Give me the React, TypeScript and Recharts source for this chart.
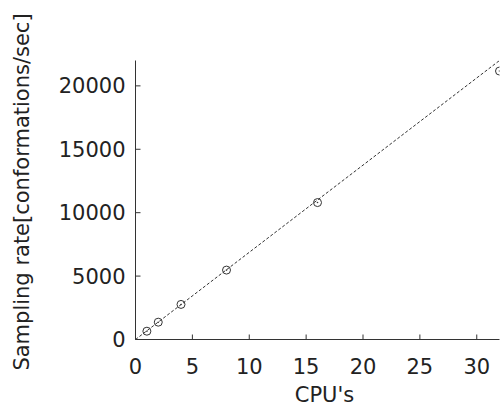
import React from "react";
import { ComposedChart, Line, Scatter, XAxis, YAxis } from "recharts";

// measured sampling rate per number of CPUs
const cpus = [1, 2, 4, 8, 16, 32];
const rates = [655, 1366, 2765, 5474, 10797, 21169];

// ideal linear scaling line
const fitX = [0, 32];
const fitY = [0, 22000];

const xTicks = [0, 5, 10, 15, 20, 25, 30];
const yTicks = [0, 5000, 10000, 15000, 20000];

const measured = cpus.map((x, i) => ({ x, y: rates[i] }));
const fitLine = fitX.map((x, i) => ({ x, y: fitY[i] }));

const INK = "#333";
const TEXT = "#222";
const FONT = "'DejaVu Sans', sans-serif";
const TICK_LEN = 5;

const BottomTick = (props: any) => {
  const { x, y, payload } = props;
  return (
    <g>
      <line x1={x} y1={y} x2={x} y2={y - TICK_LEN} stroke={INK} />
      <text x={x} y={y + 34} textAnchor="middle" fontFamily={FONT} fontSize={21} fill={TEXT}>
        {payload.value}
      </text>
    </g>
  );
};

const LeftTick = (props: any) => {
  const { x, y, payload } = props;
  return (
    <g>
      <line x1={x} y1={y} x2={x + TICK_LEN} y2={y} stroke={INK} />
      <text x={x - 10} y={y + 7.5} textAnchor="end" fontFamily={FONT} fontSize={21} fill={TEXT}>
        {payload.value}
      </text>
    </g>
  );
};

const TopTick = (props: any) => {
  const { x, y } = props;
  return <line x1={x} y1={y} x2={x} y2={y + TICK_LEN} stroke={INK} />;
};

const RightTick = (props: any) => {
  const { x, y } = props;
  return <line x1={x} y1={y} x2={x - TICK_LEN} y2={y} stroke={INK} />;
};

const Marker = (props: any) => {
  const { cx, cy } = props;
  return (
    <g>
      <circle cx={cx} cy={cy} r={4} fill="none" stroke={INK} strokeWidth={1} />
      <circle cx={cx} cy={cy} r={0.8} fill={INK} />
    </g>
  );
};

const YLabel = (props: any) => {
  const vb = props.viewBox || { x: 0, y: 60, height: 280 };
  const cx = vb.x + 22;
  const cy = vb.y + vb.height / 2 - 8;
  return (
    <text
      x={cx}
      y={cy}
      transform={`rotate(-90, ${cx}, ${cy})`}
      textAnchor="middle"
      dominantBaseline="central"
      fontFamily={FONT}
      fontSize={21}
      fill={TEXT}
    >
      Sampling rate[conformations/sec]
    </text>
  );
};

const XLabel = (props: any) => {
  const vb = props.viewBox || { x: 135, y: 339, width: 364, height: 69 };
  const cx = vb.x + vb.width / 2 + 7;
  return (
    <text x={cx} y={vb.y + vb.height - 6} textAnchor="middle" fontFamily={FONT} fontSize={21} fill={TEXT}>
      CPU's
    </text>
  );
};

export default function App() {
  return (
    <div style={{ position: "absolute", left: 0, top: 0, background: "#fff" }}>
      <ComposedChart
        width={501}
        height={408}
        margin={{ top: 60.5, right: 1.5, bottom: 0, left: 0 }}
      >
        <XAxis
          dataKey="x"
          type="number"
          domain={[0, 32]}
          ticks={xTicks}
          allowDataOverflow
          height={68.5}
          tickLine={false}
          tickSize={0}
          tickMargin={0}
          tick={<BottomTick />}
          axisLine={{ stroke: INK }}
          label={<XLabel />}
        />
        <XAxis
          xAxisId="top"
          orientation="top"
          dataKey="x"
          type="number"
          domain={[0, 32]}
          ticks={xTicks}
          allowDataOverflow
          height={0}
          tickLine={false}
          tickSize={0}
          tickMargin={0}
          tick={<TopTick />}
          axisLine={{ stroke: INK }}
        />
        <YAxis
          type="number"
          domain={[0, 22000]}
          ticks={yTicks}
          allowDataOverflow
          width={135.5}
          tickLine={false}
          tickSize={0}
          tickMargin={0}
          tick={<LeftTick />}
          axisLine={{ stroke: INK }}
          label={<YLabel />}
        />
        <YAxis
          yAxisId="right"
          orientation="right"
          type="number"
          domain={[0, 22000]}
          ticks={yTicks}
          allowDataOverflow
          width={0}
          tickLine={false}
          tickSize={0}
          tickMargin={0}
          tick={<RightTick />}
          axisLine={{ stroke: INK }}
        />
        <Line
          data={fitLine}
          dataKey="y"
          type="linear"
          stroke={INK}
          strokeWidth={1}
          strokeDasharray="3 2"
          dot={false}
          activeDot={false}
          isAnimationActive={false}
        />
        <Scatter
          data={measured}
          dataKey="y"
          shape={<Marker />}
          isAnimationActive={false}
        />
      </ComposedChart>
    </div>
  );
}
